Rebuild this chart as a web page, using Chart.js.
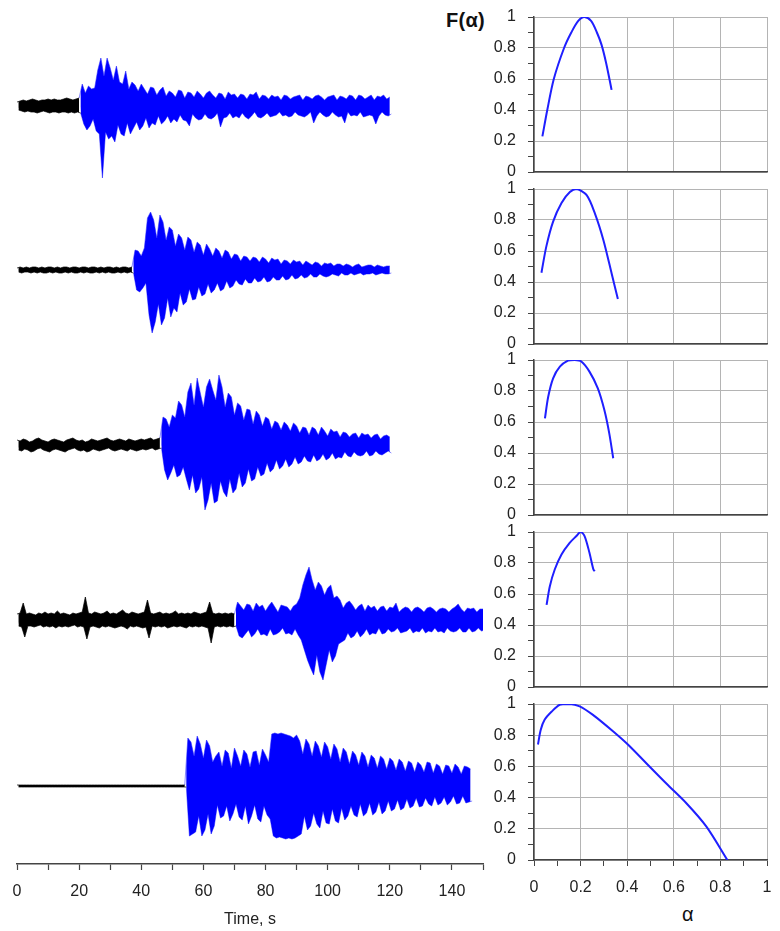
<!DOCTYPE html>
<html>
<head>
<meta charset="utf-8">
<script src="https://cdn.jsdelivr.net/npm/chart.js@4.4.1/dist/chart.umd.min.js"></script>
<style>
    html, body { margin: 0; padding: 0; background: #fff; }
    body { width: 780px; height: 931px; position: relative; overflow: hidden; font-family: "Liberation Sans", Arial, sans-serif; }
    canvas { position: absolute; }
    .lbl { position: absolute; color: #111; white-space: nowrap; line-height: 1; }
</style>
</head>
<body>
<div class="lbl" style="left:446px;top:10px;font-size:20px;font-weight:bold;letter-spacing:0.3px">F(α)</div>
<div class="lbl" style="left:682px;top:904px;font-size:20px">α</div>
<script>
(function () {
    "use strict";

    // Seismogram envelopes, one value per second (upper / lower excursion, arbitrary counts)
    const trace1Up = [
        4, 5, 6, 5, 6, 7, 6, 5, 6, 6,
        7, 6, 7, 6, 6, 7, 8, 7, 6, 7,
        8, 22, 13, 20, 17, 18, 36, 48, 30, 48,
        38, 26, 40, 24, 22, 35, 17, 24, 21, 15,
        22, 17, 12, 19, 18, 11, 16, 19, 10, 15,
        13, 9, 16, 15, 8, 14, 13, 9, 15, 12,
        8, 13, 15, 11, 8, 13, 12, 7, 14, 11,
        12, 8, 12, 11, 7, 12, 11, 14, 7, 11,
        10, 7, 11, 9, 10, 6, 11, 10, 7, 9,
        10, 11, 6, 10, 9, 7, 10, 11, 9, 6,
        9, 10, 11, 6, 10, 9, 7, 11, 10, 6,
        11, 10, 7, 9, 11, 6, 10, 9, 11, 7,
        9
    ];
    const trace1Down = [
        -4, -5, -6, -5, -6, -6, -7, -6, -5, -6,
        -7, -6, -6, -7, -6, -6, -7, -6, -7, -6,
        -7, -18, -24, -20, -13, -25, -28, -72, -26, -33,
        -30, -36, -19, -28, -30, -17, -28, -22, -16, -24,
        -20, -12, -22, -17, -19, -10, -18, -15, -10, -17,
        -13, -16, -9, -14, -15, -20, -8, -12, -14, -13,
        -8, -12, -13, -11, -7, -21, -12, -11, -7, -12,
        -10, -12, -7, -11, -13, -10, -6, -11, -12, -10,
        -7, -11, -10, -9, -6, -10, -9, -11, -10, -6,
        -9, -10, -11, -9, -6, -17, -10, -6, -9, -11,
        -10, -6, -9, -11, -10, -17, -6, -10, -9, -10,
        -6, -11, -10, -9, -10, -18, -10, -6, -9, -10,
        -8
    ];

    const trace2Up = [
        2, 3, 2, 3, 2, 3, 3, 2, 3, 2,
        3, 3, 2, 3, 2, 3, 3, 2, 3, 3,
        2, 3, 3, 2, 3, 3, 2, 3, 2, 3,
        3, 2, 3, 2, 3, 3, 2, 3, 20, 19,
        14, 22, 52, 58, 50, 32, 55, 48, 30, 43,
        40, 24, 36, 32, 20, 33, 30, 18, 28, 25,
        15, 26, 21, 14, 22, 19, 12, 20, 18, 11,
        16, 15, 9, 14, 13, 9, 13, 12, 8, 13,
        11, 7, 12, 10, 11, 6, 10, 9, 6, 10,
        8, 9, 5, 9, 7, 5, 8, 7, 4, 7,
        6, 7, 4, 6, 6, 4, 6, 5, 3, 5,
        6, 3, 4, 5, 5, 3, 5, 4, 3, 4,
        4
    ];
    const trace2Down = [
        -2, -3, -2, -2, -3, -2, -3, -2, -3, -3,
        -2, -3, -2, -3, -3, -2, -3, -2, -3, -3,
        -2, -3, -2, -3, -3, -2, -3, -2, -3, -2,
        -3, -3, -2, -3, -2, -3, -2, -3, -20, -22,
        -18, -13, -45, -63, -52, -34, -55, -48, -28, -47,
        -38, -42, -23, -35, -32, -19, -30, -29, -17, -26,
        -24, -14, -23, -20, -13, -21, -19, -11, -18, -16,
        -10, -14, -15, -9, -13, -13, -8, -12, -11, -7,
        -12, -11, -7, -10, -10, -6, -10, -9, -5, -9,
        -8, -5, -8, -7, -4, -7, -7, -4, -6, -7,
        -6, -4, -5, -6, -3, -5, -5, -3, -5, -4,
        -3, -5, -4, -4, -3, -5, -4, -3, -4, -4,
        -3
    ];

    const trace3Up = [
        5, 4, 6, 5, 3, 4, 6, 7, 5, 4,
        3, 5, 6, 5, 4, 3, 5, 6, 7, 5,
        4, 5, 3, 4, 6, 5, 4, 5, 6, 7,
        5, 4, 5, 6, 5, 4, 6, 5, 4, 5,
        6, 5, 6, 7, 5, 6, 7, 28, 26, 18,
        30, 27, 44, 40, 28, 53, 62, 40, 67, 52,
        38, 58, 66, 55, 45, 70, 58, 38, 52, 48,
        30, 42, 39, 25, 36, 35, 21, 34, 30, 19,
        28, 26, 16, 24, 22, 15, 23, 20, 14, 22,
        19, 12, 18, 17, 10, 18, 16, 10, 18, 14,
        9, 16, 13, 14, 8, 13, 12, 8, 11, 12,
        7, 12, 10, 11, 7, 10, 11, 6, 9, 10,
        8
    ];
    const trace3Down = [
        -5, -6, -4, -5, -7, -6, -4, -3, -5, -6,
        -7, -5, -4, -5, -6, -7, -5, -4, -3, -5,
        -6, -5, -7, -6, -4, -5, -6, -5, -4, -3,
        -5, -6, -5, -4, -5, -6, -4, -5, -6, -5,
        -4, -5, -4, -3, -5, -4, -3, -25, -35, -28,
        -20, -32, -30, -22, -34, -45, -30, -48, -44, -32,
        -65, -55, -38, -58, -56, -36, -47, -52, -34, -48,
        -44, -28, -42, -38, -24, -36, -34, -22, -31, -29,
        -18, -27, -24, -15, -24, -21, -14, -22, -19, -12,
        -19, -17, -11, -16, -17, -10, -16, -14, -9, -15,
        -13, -8, -14, -12, -13, -7, -11, -12, -7, -10,
        -11, -10, -6, -11, -10, -6, -9, -10, -8, -6,
        -8
    ];

    const trace4Up = [
        6, 7, 17, 6, 7, 6, 5, 7, 6, 8,
        6, 7, 6, 9, 6, 7, 6, 5, 7, 6,
        7, 8, 23, 7, 6, 8, 7, 6, 7, 9,
        6, 7, 6, 8, 10, 7, 6, 8, 7, 6,
        7, 8, 20, 7, 6, 7, 8, 6, 7, 6,
        7, 9, 6, 7, 6, 7, 6, 8, 7, 6,
        7, 8, 18, 7, 6, 7, 6, 7, 6, 7,
        6, 18, 14, 10, 16, 15, 9, 17, 13, 15,
        9, 14, 18, 13, 8, 15, 14, 13, 9, 14,
        16, 22, 35, 45, 53, 40, 30, 38, 34, 25,
        32, 35, 22, 24, 20, 12, 17, 19, 15, 10,
        14, 16, 9, 15, 12, 14, 9, 13, 14, 9,
        13, 12, 17, 8, 11, 13, 12, 8, 12, 13,
        11, 8, 12, 13, 11, 8, 11, 12, 11, 8,
        11, 13, 16, 11, 8, 12, 11, 12, 8, 11,
        11
    ];
    const trace4Down = [
        -6, -7, -17, -6, -6, -7, -6, -5, -7, -6,
        -7, -6, -8, -6, -7, -6, -7, -6, -5, -7,
        -6, -7, -19, -7, -6, -7, -8, -6, -7, -6,
        -7, -8, -7, -6, -7, -9, -6, -7, -6, -7,
        -8, -7, -18, -6, -7, -6, -7, -6, -8, -7,
        -6, -7, -6, -7, -8, -6, -7, -6, -7, -6,
        -7, -8, -23, -7, -6, -7, -6, -7, -6, -7,
        -6, -16, -18, -14, -10, -17, -14, -9, -15, -14,
        -16, -9, -15, -14, -12, -8, -14, -13, -15, -9,
        -15, -20, -30, -40, -48, -55, -35, -52, -60, -45,
        -30, -42, -36, -24, -22, -20, -13, -18, -16, -11,
        -17, -14, -9, -15, -13, -14, -8, -14, -13, -9,
        -12, -11, -8, -13, -12, -11, -8, -13, -11, -12,
        -8, -13, -11, -12, -8, -12, -11, -13, -8, -11,
        -12, -11, -8, -12, -12, -8, -12, -11, -8, -11,
        -10
    ];

    const trace5Up = [
        1, 1, 1, 1, 1, 1, 1, 1, 1, 1,
        1, 1, 1, 1, 1, 1, 1, 1, 1, 1,
        1, 1, 1, 1, 1, 1, 1, 1, 1, 1,
        1, 1, 1, 1, 1, 1, 1, 1, 1, 1,
        1, 1, 1, 1, 1, 1, 1, 1, 1, 1,
        1, 1, 1, 1, 1, 48, 44, 30, 50, 42,
        28, 46, 40, 24, 30, 34, 20, 36, 33, 18,
        38, 30, 20, 36, 32, 19, 34, 35, 21, 37,
        31, 24, 52, 53, 52, 53, 52, 51, 50, 48,
        51, 45, 32, 47, 42, 30, 45, 40, 29, 44,
        39, 27, 42, 37, 24, 38, 34, 22, 35, 31,
        21, 34, 30, 19, 31, 28, 18, 30, 27, 17,
        28, 25, 16, 27, 24, 15, 25, 23, 14, 24,
        21, 14, 24, 23, 13, 22, 20, 12, 21, 20,
        13, 22, 19, 12, 20, 19, 17
    ];
    const trace5Down = [
        -1, -1, -1, -1, -1, -1, -1, -1, -1, -1,
        -1, -1, -1, -1, -1, -1, -1, -1, -1, -1,
        -1, -1, -1, -1, -1, -1, -1, -1, -1, -1,
        -1, -1, -1, -1, -1, -1, -1, -1, -1, -1,
        -1, -1, -1, -1, -1, -1, -1, -1, -1, -1,
        -1, -1, -1, -1, -1, -50, -48, -46, -30, -50,
        -44, -28, -48, -40, -19, -32, -30, -20, -35, -28,
        -18, -31, -34, -20, -38, -30, -19, -33, -36, -20,
        -29, -33, -50, -52, -51, -52, -53, -52, -53, -52,
        -50, -48, -30, -44, -40, -27, -38, -42, -25, -37,
        -38, -23, -35, -37, -22, -34, -30, -20, -29, -31,
        -18, -30, -27, -17, -29, -26, -16, -28, -25, -15,
        -25, -23, -14, -24, -22, -13, -22, -20, -12, -21,
        -20, -12, -18, -20, -11, -19, -17, -11, -19, -16,
        -10, -18, -17, -10, -17, -16, -15
    ];

    // second at which each trace turns from noise (black) to signal (blue)
    const onsets = [21, 38, 47, 71, 55];

    // Multifractal spectra F(alpha)
    const alpha1 = [0.036, 0.057, 0.085, 0.129, 0.16, 0.19, 0.216, 0.245, 0.27, 0.29, 0.31, 0.333];
    const fAlpha1 = [0.23, 0.40, 0.60, 0.80, 0.90, 0.975, 1.0, 0.975, 0.90, 0.82, 0.70, 0.53];
    const alpha2 = [0.032, 0.053, 0.082, 0.118, 0.154, 0.183, 0.226, 0.262, 0.298, 0.334, 0.36];
    const fAlpha2 = [0.46, 0.63, 0.79, 0.91, 0.98, 1.0, 0.96, 0.84, 0.67, 0.45, 0.29];
    const alpha3 = [0.047, 0.061, 0.082, 0.111, 0.146, 0.174, 0.203, 0.238, 0.274, 0.302, 0.323, 0.34];
    const fAlpha3 = [0.624, 0.763, 0.882, 0.957, 0.996, 1.0, 0.99, 0.925, 0.817, 0.677, 0.527, 0.366];
    const alpha4 = [0.054, 0.068, 0.089, 0.118, 0.153, 0.182, 0.2, 0.217, 0.238, 0.255, 0.261];
    const fAlpha4 = [0.53, 0.65, 0.758, 0.855, 0.93, 0.974, 1.0, 0.974, 0.866, 0.758, 0.747];
    const alpha5 = [0.017, 0.029, 0.046, 0.075, 0.11, 0.146, 0.196, 0.253, 0.339, 0.403, 0.482, 0.568, 0.654, 0.74, 0.83];
    const fAlpha5 = [0.74, 0.835, 0.9, 0.95, 0.995, 1.0, 0.985, 0.93, 0.825, 0.74, 0.62, 0.49, 0.364, 0.214, 0.0];

    const traceUp = [trace1Up, trace2Up, trace3Up, trace4Up, trace5Up];
    const traceDown = [trace1Down, trace2Down, trace3Down, trace4Down, trace5Down];
    const alphas = [alpha1, alpha2, alpha3, alpha4, alpha5];
    const fAlphas = [fAlpha1, fAlpha2, fAlpha3, fAlpha4, fAlpha5];

    // canvas placement (page pixels)
    const traceTops = [16, 180, 355, 530, 696];
    const panelTops = [17, 189, 360, 532, 704];

    Chart.defaults.font.family = '"Liberation Sans", Arial, sans-serif';
    Chart.defaults.color = '#222';

    function addCanvas(left, top, w, h) {
        const c = document.createElement('canvas');
        c.width = w;
        c.height = h;
        c.style.left = left + 'px';
        c.style.top = top + 'px';
        document.body.appendChild(c);
        return c;
    }

    // upper swings sit on whole seconds, lower swings half a second later
    function envelope(values, from, to, shift) {
        const pts = [];
        for (let i = Math.max(0, from); i < to; i++) pts.push({ x: i + shift, y: values[i] });
        return pts;
    }

    function drawTrace(k, withAxis) {
        const up = traceUp[k], down = traceDown[k], onset = onsets[k], n = up.length;
        const canvas = addCanvas(0, traceTops[k], 500, withAxis ? 235 : 180);
        const black = '#000', blue = '#0000ff', blueEdge = 'rgba(40,40,255,0.55)';

        new Chart(canvas, {
            type: 'line',
            data: {
                datasets: [
                    { data: envelope(up, 0, onset, 0), borderColor: 'rgba(0,0,0,0.7)', backgroundColor: black, borderWidth: 1, fill: '+1' },
                    { data: envelope(down, 0, onset, 0.5), borderColor: 'rgba(0,0,0,0.7)', borderWidth: 1, fill: false },
                    { data: envelope(up, onset - 1, n, 0), borderColor: blueEdge, backgroundColor: blue, borderWidth: 1, fill: '+1' },
                    { data: envelope(down, onset - 1, n, 0.5), borderColor: blueEdge, borderWidth: 1, fill: false }
                ]
            },
            options: {
                responsive: false,
                animation: false,
                devicePixelRatio: 1,
                parsing: false,
                layout: { padding: { left: 17, right: 17, top: 0, bottom: 0 } },
                elements: { point: { radius: 0 }, line: { tension: 0 } },
                plugins: { legend: { display: false }, tooltip: { enabled: false } },
                scales: {
                    x: {
                        type: 'linear', min: 0, max: 150, display: withAxis,
                        ticks: {
                            stepSize: 10, autoSkip: false, maxRotation: 0, padding: 12,
                            font: { size: 16 }, color: '#222',
                            callback: (v) => (v % 20 === 0 ? String(v) : '')
                        },
                        grid: { drawOnChartArea: false, tickLength: 6, tickColor: '#444', tickWidth: 1.2 },
                        border: { color: '#444', width: 1.5 },
                        title: { display: true, text: 'Time, s', font: { size: 16 }, color: '#222', padding: { top: 0, bottom: 2 } },
                        afterFit: (s) => {
                            if (!withAxis) return;
                            s.height = 67;
                            s.paddingLeft = 0;
                            s.paddingRight = 0;
                        }
                    },
                    y: { display: false, min: withAxis ? -78 : -90, max: 90 }
                }
            }
        });
    }

    function drawSpectrum(k, withAxis) {
        const canvas = addCanvas(480, panelTops[k] - 10, 300, withAxis ? 237 : 175);
        const pts = alphas[k].map((a, i) => ({ x: a, y: fAlphas[k][i] }));
        const everyOther = (ctx) => (ctx.index % 2 ? 'rgba(0,0,0,0)' : '#b4b4b4');
        const label = (v, i) => (i % 2 ? '' : String(Math.round(v * 10) / 10));

        new Chart(canvas, {
            type: 'line',
            data: {
                datasets: [{ data: pts, borderColor: '#1f1fff', borderWidth: 2, tension: 0.3, pointRadius: 0 }]
            },
            options: {
                responsive: false,
                animation: false,
                devicePixelRatio: 1,
                parsing: false,
                layout: { padding: { top: 10, right: 13, bottom: withAxis ? 0 : 10, left: 0 } },
                plugins: { legend: { display: false }, tooltip: { enabled: false } },
                scales: {
                    x: {
                        type: 'linear', min: 0, max: 1,
                        ticks: {
                            display: withAxis, stepSize: 0.1, autoSkip: false, maxRotation: 0, padding: 12,
                            font: { size: 16 }, color: '#222', callback: label
                        },
                        grid: { color: everyOther, drawTicks: withAxis, tickLength: 6, tickColor: '#444' },
                        border: { color: '#444', width: 1.5 },
                        afterFit: (s) => {
                            s.height = withAxis ? 71 : 0;
                            s.paddingLeft = 0;
                            s.paddingRight = 0;
                        }
                    },
                    y: {
                        min: 0, max: 1,
                        ticks: { stepSize: 0.1, autoSkip: false, padding: 12, font: { size: 16 }, color: '#222', callback: label },
                        grid: { color: everyOther, tickLength: 6, tickColor: '#444' },
                        border: { color: '#444', width: 1.5 },
                        afterFit: (s) => {
                            s.width = 54;
                            s.paddingTop = 0;
                            s.paddingBottom = 0;
                        }
                    }
                }
            }
        });
    }

    for (let k = 0; k < 5; k++) {
        drawTrace(k, k === 4);
        drawSpectrum(k, k === 4);
    }
})();
</script>
</body>
</html>
